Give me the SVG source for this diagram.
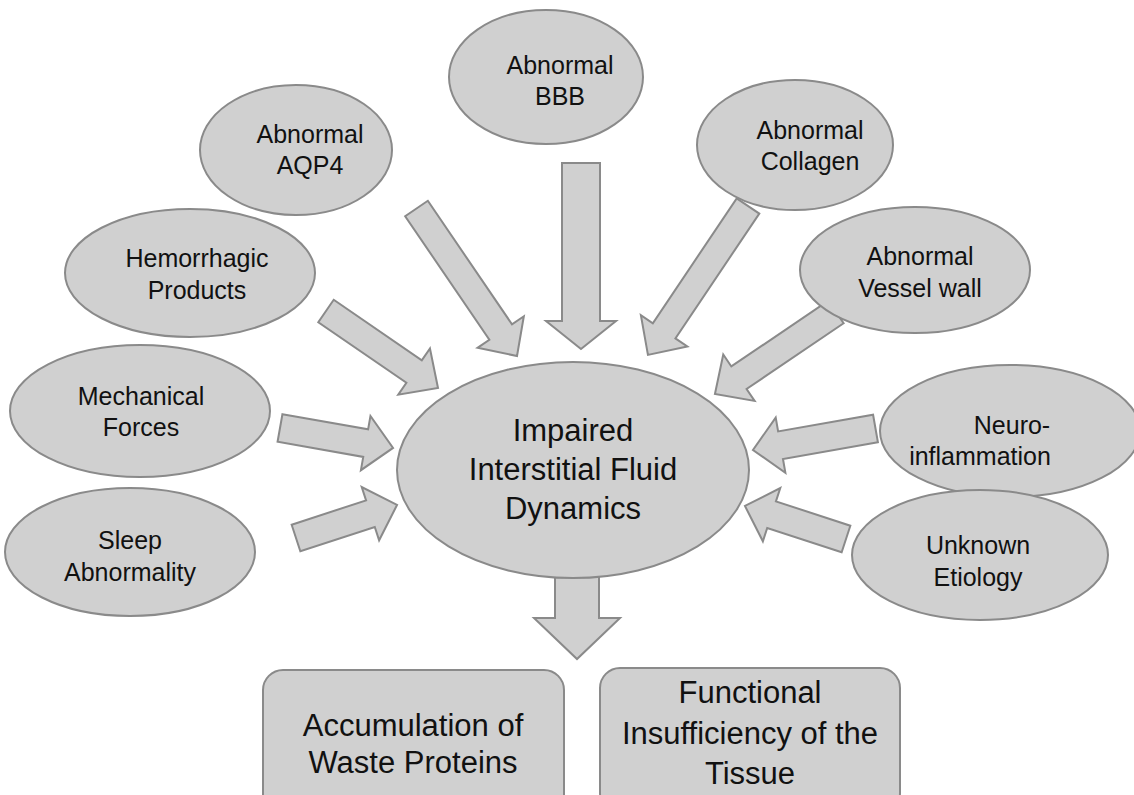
<svg xmlns="http://www.w3.org/2000/svg" width="1134" height="795" viewBox="0 0 1134 795">
<style>
.s{fill:#d0d0d0;stroke:#8a8a8a;stroke-width:2}
.t{font-family:"Liberation Sans",Arial,sans-serif;font-size:25px;fill:#111;text-anchor:middle;dominant-baseline:central}
.c{font-size:31px}
</style>
<rect width="1134" height="795" fill="#fff"/>
<g id="connectors">
<polygon class="s" transform="translate(416.5,208.5) rotate(55.73)" points="0,-13.7 149.5,-13.7 149.5,-28 178.5,0 149.5,28 149.5,13.7 0,13.7"/>
<polygon class="s" points="562,163 600,163 600,321 616,321 581,349 546,321 562,321"/>
<polygon class="s" transform="translate(748,206) rotate(123.9)" points="0,-13.6 150.4,-13.6 150.4,-28 179.4,0 150.4,28 150.4,13.6 0,13.6"/>
<polygon class="s" transform="translate(836,312) rotate(145.9)" points="0,-13.6 117.2,-13.6 117.2,-28 146.2,0 117.2,28 117.2,13.6 0,13.6"/>
<polygon class="s" transform="translate(326,311) rotate(34.5)" points="0,-13.6 106.9,-13.6 106.9,-28 135.9,0 106.9,28 106.9,13.6 0,13.6"/>
<polygon class="s" transform="translate(280,428) rotate(10)" points="0,-14 87,-14 87,-27.5 114.8,0 87,27.5 87,14 0,14"/>
<polygon class="s" transform="translate(296,538) rotate(-18.1)" points="0,-14 78.3,-14 78.3,-28 106.3,0 78.3,28 78.3,14 0,14"/>
<polygon class="s" transform="translate(875.5,428.5) rotate(170.05)" points="0,-14 96.4,-14 96.4,-28 124.4,0 96.4,28 96.4,14 0,14"/>
<polygon class="s" transform="translate(846,539) rotate(198.1)" points="0,-14 78.3,-14 78.3,-28 106.3,0 78.3,28 78.3,14 0,14"/>
<polygon class="s" points="555,577 599,577 599,618 620,618 577,659 534,618 555,618"/>
</g>
<g id="bbb"><ellipse class="s" cx="546" cy="77" rx="97" ry="67"/><text class="t" x="560" y="65">Abnormal</text><text class="t" x="560" y="96">BBB</text></g>
<g id="aqp4"><ellipse class="s" cx="296" cy="150" rx="96" ry="65"/><text class="t" x="310" y="134">Abnormal</text><text class="t" x="310" y="165">AQP4</text></g>
<g id="collagen"><ellipse class="s" cx="795" cy="145" rx="98" ry="65"/><text class="t" x="810" y="130">Abnormal</text><text class="t" x="810" y="161">Collagen</text></g>
<g id="hemorrhagic"><ellipse class="s" cx="190" cy="273" rx="125" ry="64"/><text class="t" x="197" y="258">Hemorrhagic</text><text class="t" x="197" y="290">Products</text></g>
<g id="vessel"><ellipse class="s" cx="915" cy="270" rx="115" ry="63"/><text class="t" x="920" y="256">Abnormal</text><text class="t" x="920" y="288">Vessel wall</text></g>
<g id="mechanical"><ellipse class="s" cx="140" cy="411" rx="130" ry="66"/><text class="t" x="141" y="396">Mechanical</text><text class="t" x="141" y="427">Forces</text></g>
<g id="neuro"><ellipse class="s" cx="1010" cy="431" rx="130" ry="66"/><text class="t" x="1012" y="425">Neuro-</text><text class="t" x="980" y="456">inflammation</text></g>
<g id="sleep"><ellipse class="s" cx="130" cy="552" rx="125" ry="64"/><text class="t" x="130" y="540">Sleep</text><text class="t" x="130" y="572">Abnormality</text></g>
<g id="unknown"><ellipse class="s" cx="980" cy="555" rx="128" ry="65"/><text class="t" x="978" y="545">Unknown</text><text class="t" x="978" y="577">Etiology</text></g>
<g id="center"><ellipse class="s" cx="573" cy="470" rx="176" ry="108"/><text class="t c" x="573" y="430">Impaired</text><text class="t c" x="573" y="469">Interstitial Fluid</text><text class="t c" x="573" y="508">Dynamics</text></g>
<g id="accumulation"><rect class="s" x="263" y="670" width="301" height="145" rx="20"/><text class="t c" x="413" y="725">Accumulation of</text><text class="t c" x="413" y="762">Waste Proteins</text></g>
<g id="functional"><rect class="s" x="600" y="668" width="300" height="145" rx="20"/><text class="t c" x="750" y="692">Functional</text><text class="t c" x="750" y="733">Insufficiency of the</text><text class="t c" x="750" y="773">Tissue</text></g>
</svg>
